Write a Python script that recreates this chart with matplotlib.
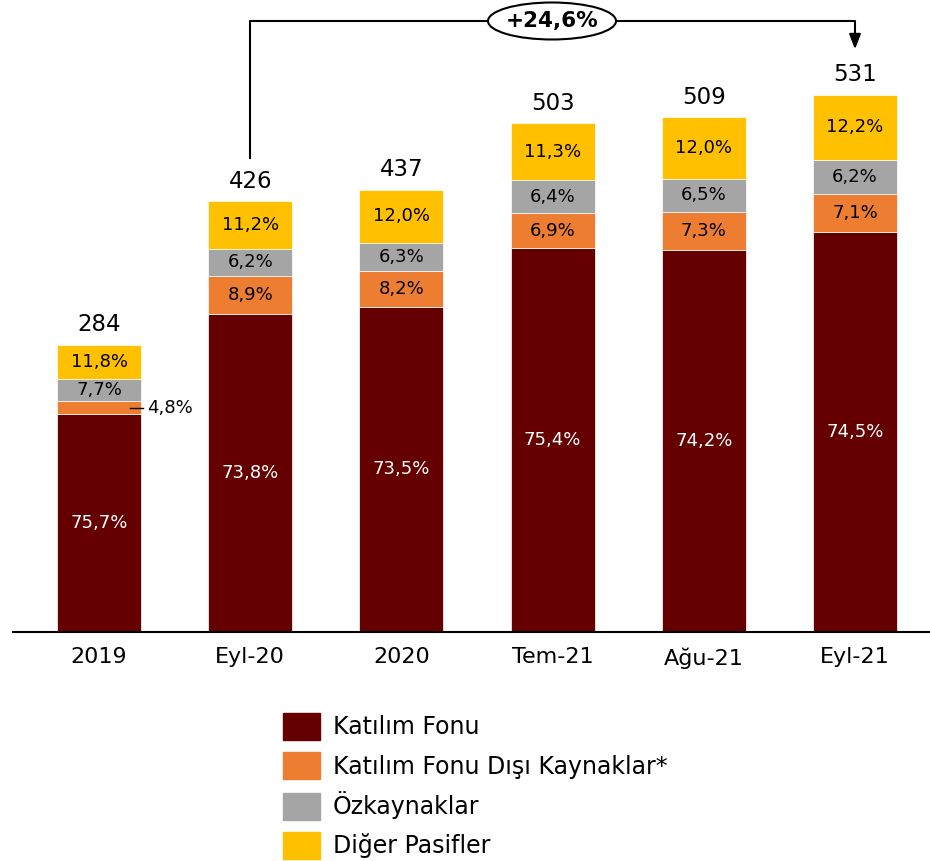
import matplotlib
matplotlib.use("Agg")
import matplotlib.pyplot as plt
from matplotlib.patches import Ellipse, Rectangle
import numpy as np

categories = ["2019", "Eyl-20", "2020", "Tem-21", "Ağu-21", "Eyl-21"]
totals = [284, 426, 437, 503, 509, 531]
katilim_fonu = [75.7, 73.8, 73.5, 75.4, 74.2, 74.5]
fon_disi = [4.8, 8.9, 8.2, 6.9, 7.3, 7.1]
ozkaynak = [7.7, 6.2, 6.3, 6.4, 6.5, 6.2]
diger = [11.8, 11.2, 12.0, 11.3, 12.0, 12.2]
series_names = ["Katılım Fonu", "Katılım Fonu Dışı Kaynaklar*", "Özkaynaklar", "Diğer Pasifler"]
colors = ["#640000", "#ED7D31", "#A5A5A5", "#FFC000"]
growth_label = "+24,6%"

plt.rcParams['font.family'] = ['DejaVu Sans']

W, H = 930, 861
fig = plt.figure(figsize=(W/100, H/100), dpi=100)
base_px = 632
ax = fig.add_axes([13/W, (H-base_px)/H, (930-13)/W, base_px/H])
scale = 1.012
ax.set_ylim(0, base_px/scale)
spacing = 151.2
ax.set_xlim((13-99)/spacing, (930-99)/spacing)

x = np.arange(len(categories))
width = 84/spacing
series = [katilim_fonu, fon_disi, ozkaynak, diger]
totals_a = np.array(totals, float)
sums = np.array(series).sum(axis=0)
bottom = np.zeros(len(categories))
for s, (vals, c) in enumerate(zip(series, colors)):
    v = np.array(vals)
    h = v/sums*totals_a
    ax.bar(x, h, width, bottom=bottom, color=c, edgecolor="white", linewidth=0.5, label=series_names[s])
    for i in range(len(x)):
        lbl = f"{vals[i]:.1f}%".replace(".", ",")
        if s == 1 and i == 0:
            yc = bottom[i] + h[i]/2
            ax.plot([x[i]+width/2-0.07, x[i]+width/2+0.015], [yc, yc], color="black", lw=1)
            ax.text(x[i]+width/2+0.04, yc, lbl, ha="left", va="center", fontsize=13, color="black")
        else:
            ax.text(x[i], bottom[i]+h[i]/2, lbl, ha="center", va="center", fontsize=13,
                    color="white" if s == 0 else "black")
    bottom += h

for i in range(len(x)):
    ax.annotate(str(totals[i]), (x[i], totals[i]), xytext=(0, 6), textcoords="offset points",
                ha="center", va="bottom", fontsize=16.5)

# growth arrow
y_top = (base_px-21)/scale
y_start = (base_px-158)/scale
y_tip = (base_px-52)/scale
ax.plot([x[1], x[1], x[5], x[5]], [y_start, y_top, y_top, y_tip+14], color="black", lw=1.5, clip_on=False)
ax.annotate("", xy=(x[5], y_tip), xytext=(x[5], y_tip+16),
            arrowprops=dict(arrowstyle="-|>,head_width=0.35,head_length=0.9", color="black", lw=1.5))
xm = (552-99)/spacing
ell = Ellipse((xm, y_top), 128/spacing, 37/scale, facecolor="white", edgecolor="black", lw=1.5, zorder=5, clip_on=False)
ax.add_patch(ell)
ax.text(xm, y_top, growth_label, ha="center", va="center", fontsize=15.5, fontweight="bold", zorder=6)

for sp in ["top", "right", "left"]:
    ax.spines[sp].set_visible(False)
ax.spines["bottom"].set_linewidth(1.5)
ax.set_yticks([])
ax.set_xticks(x)
ax.set_xticklabels(categories, fontsize=16)
ax.tick_params(axis="x", length=0, pad=11)

handles = [Rectangle((0, 0), 1, 1, color=c) for c in colors]
fig.legend(handles, series_names, loc="upper left", bbox_to_anchor=(283/W, 1-713/H),
           frameon=False, fontsize=17, handlelength=1.57, handleheight=1.4, labelspacing=0.5,
           handletextpad=0.55, borderpad=0, borderaxespad=0)

fig.savefig("out.png", dpi=100)
